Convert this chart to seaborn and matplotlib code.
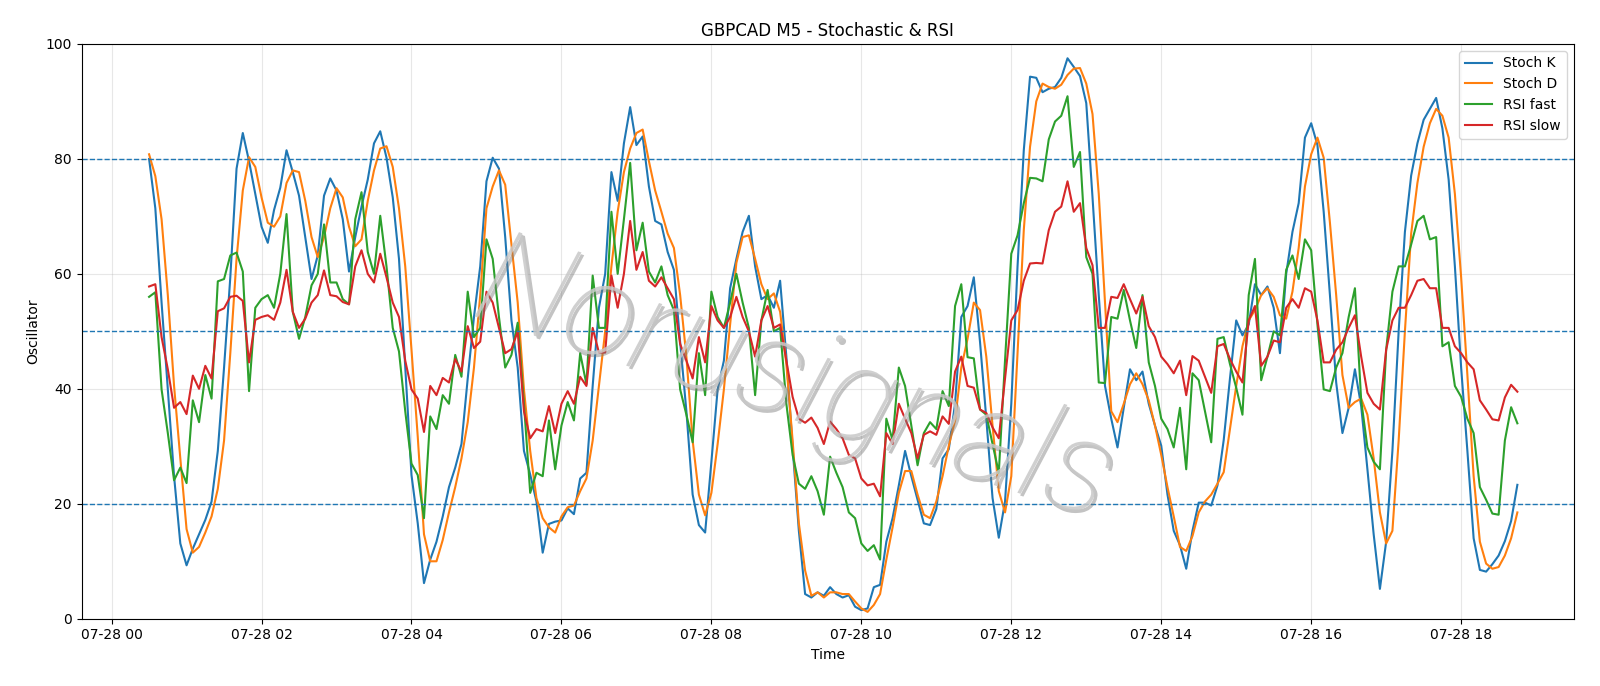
import numpy as np
import pandas as pd
import matplotlib
matplotlib.use("Agg")
import matplotlib.pyplot as plt
import matplotlib.dates as mdates
import matplotlib.patheffects as pe
import seaborn as sns

start_time = "2025-07-28 00:30"
freq = "5min"
x_left = "2025-07-27 23:36"
x_right = "2025-07-28 19:30"

stoch_k = [80, 71.4, 55, 39.9, 24.8, 13.1, 9.3, 12.2, 14.7, 17.2, 20.4, 29.2, 43.7, 59.4, 78.3, 84.5, 79.6, 73.9, 68.2, 65.4,
           71.1, 75, 81.5, 77.7, 73.6, 66.4, 59.1, 63.2, 73.6, 76.6, 74.5, 69.5, 60.4, 66.4, 71.7, 76.4, 82.7, 84.8, 80.2, 73.3,
           62.6, 43.7, 25, 16.6, 6.2, 10.3, 13.4, 17.8, 22.9, 26.3, 30.4, 41.8, 52.5, 61.3, 76.1, 80.2, 78.3, 66.4, 51.9, 43.7,
           29.2, 25.1, 20.4, 11.5, 16.5, 16.9, 17.1, 19.2, 18.2, 24.4, 25.4, 40.5, 54.1, 60, 77.7, 72.7, 82.7, 89, 82.4, 83.9,
           75.2, 69.2, 68.6, 63.8, 60.7, 48.1, 36.1, 21.6, 16.3, 15, 27.3, 39.9, 44.9, 57.5, 62.6, 67.3, 70.1, 61.3, 55.6, 56.3,
           54.1, 58.8, 45.6, 29.8, 15.3, 4.3, 3.7, 4.6, 4, 5.5, 4.3, 3.7, 4.1, 2.1, 1.5, 1.8, 5.5, 5.9, 13.4, 17.5,
           23.2, 29.2, 24.8, 20.7, 16.6, 16.3, 19.1, 27.9, 29.5, 37.4, 52.5, 54.4, 59.4, 48.1, 34.8, 21, 14.1, 20.4, 37.4, 61.3,
           81.5, 94.3, 94.1, 91.6, 92.2, 92.5, 94.1, 97.5, 96, 94.4, 89.7, 73.3, 56.3, 40.5, 34.8, 29.8, 36.7, 43.4, 41.5, 43,
           37.4, 33.6, 30.1, 21.6, 15.3, 12.8, 8.7, 15.3, 20.2, 20.2, 19.7, 23.2, 31.1, 41.8, 51.9, 49.3, 51.2, 58.2, 56.3, 57.8,
           54.1, 46.2, 60, 67.3, 72.3, 83.7, 86.2, 82.4, 70.8, 56.3, 41.1, 32.3, 36.7, 43.4, 37, 26, 14.7, 5.2, 13.4, 29.2,
           50, 67.3, 77.1, 82.7, 86.8, 88.7, 90.6, 85.3, 76.4, 61.3, 43.7, 29.2, 14, 8.5, 8.2, 9.5, 11, 13.5, 17, 23.3]

stoch_d = [80.8, 77, 69.5, 56.3, 40.5, 27.9, 15.6, 11.5, 12.5, 15, 17.8, 22.6, 31, 46.2, 62.6, 74.5, 80.3, 78.6, 73.3, 68.9,
           68.2, 70, 75.8, 78, 77.7, 72.7, 66.4, 62.9, 66.4, 71.4, 74.9, 73.3, 68.2, 64.8, 66, 72.7, 78, 81.8, 82.2, 78.6,
           71.4, 61.3, 46.8, 31.7, 14.7, 10, 10, 13.7, 18.5, 22.9, 27.9, 34.2, 43.7, 56.3, 71.4, 75.2, 78, 75.5, 65.1, 55,
           39.9, 29.2, 21, 17.5, 15.9, 15, 17.8, 19.4, 19.7, 22.2, 24.4, 31, 40.5, 50, 61.3, 70.8, 77.7, 81.8, 84.5, 85.1,
           79.6, 74.5, 70.8, 67, 64.5, 56.3, 45.6, 31, 21.6, 18, 21.9, 30.4, 39.9, 51.2, 61.9, 66.4, 66.7, 62.6, 58.2, 55.6,
           56.6, 53.4, 44.3, 31, 16.6, 8.4, 4, 4.6, 3.7, 4.6, 4.6, 4.3, 4.3, 3, 1.8, 1.2, 2.4, 4.3, 10.3, 15.9,
           21.9, 25.7, 25.7, 21.6, 18.1, 17.5, 20.4, 24.8, 30.1, 34.5, 43.7, 48.7, 55, 53.7, 45.6, 33.6, 22.2, 18.5, 24.8, 46.2,
           67.6, 82.1, 90, 93.1, 92.5, 92.2, 92.9, 94.6, 95.7, 95.8, 93.1, 87.8, 73.9, 55, 36.1, 34.2, 37.4, 40.8, 42.7, 40.8,
           38, 33.6, 28.5, 22.9, 17.8, 12.5, 11.8, 14.4, 18.5, 20.4, 21.6, 23.5, 25.5, 33, 40.5, 47.4, 51.9, 53.7, 56.3, 57.5,
           56, 52.8, 52.2, 56.9, 64.5, 75.2, 80.8, 83.7, 80.2, 68.9, 56.3, 42.4, 36.7, 37.7, 38.3, 35.5, 27.9, 18.5, 13.1, 15.3,
           31, 50, 67, 75.8, 82.1, 86.2, 88.7, 87.5, 83.7, 73.9, 59.4, 42.4, 24.8, 13.4, 9.6, 8.7, 9, 11, 14, 18.5]

rsi_fast = [56, 56.8, 39.9, 32.3, 24.1, 26.3, 23.6, 38, 34.2, 42.4, 38.3, 58.7, 59.1, 63.2, 63.7, 60.4, 39.6, 54.1, 55.6, 56.3,
            54.1, 60, 70.4, 53.4, 48.7, 52.5, 58, 60, 68.6, 58.5, 58.5, 55.6, 54.7, 69.5, 74.2, 63.8, 60, 70.1, 61.3, 50.6,
            46.5, 36.1, 27, 25, 17.5, 35.2, 33, 38.9, 37.4, 45.9, 42.1, 56.9, 49, 50.6, 66, 62.6, 52.5, 43.7, 45.9, 51.5,
            37.4, 21.9, 25.4, 24.8, 34.5, 26, 33.6, 37.7, 34.5, 46.2, 40.8, 59.7, 50.6, 50.6, 70.8, 60, 69.5, 79.3, 64.1, 68.9,
            60.4, 58.5, 61.3, 56.3, 53.7, 39.9, 35.5, 30.7, 46.2, 38.9, 56.9, 52.5, 50.6, 55, 60, 55, 50.6, 38.9, 51.9, 57.2,
            50, 50.6, 37.4, 28.5, 23.5, 22.6, 24.8, 22.2, 18.1, 28.2, 25.4, 22.9, 18.5, 17.5, 13.1, 11.8, 12.8, 10.3, 34.8, 31.1,
            43.7, 40.5, 33.6, 26.7, 32.3, 34.2, 33, 39.6, 37, 54.4, 58.2, 45.5, 45.3, 36.4, 35.5, 30.4, 25.4, 45, 63.5, 66.7,
            72.3, 76.7, 76.6, 76.1, 83.4, 86.5, 87.5, 90.9, 78.6, 81.2, 62.9, 60, 41.1, 41, 52.5, 52.2, 57.2, 51.9, 47.1, 56.3,
            44.6, 40.5, 34.8, 33, 29.8, 36.7, 26, 42.7, 41.5, 36.1, 30.7, 48.7, 49, 44.3, 40.2, 35.5, 56.3, 62.6, 41.5, 45.6,
            50, 49.3, 60.7, 63.2, 59.1, 66, 64.1, 51.2, 39.9, 39.6, 43.7, 46.2, 52.5, 57.5, 38, 29.8, 27.3, 26, 46.8, 56.9,
            61.3, 61.3, 65.1, 69.2, 70.1, 66, 66.4, 47.4, 48.1, 40.5, 38.6, 34.8, 32.3, 22.9, 20.7, 18.3, 18.1, 31, 36.8, 34]

rsi_slow = [57.8, 58.2, 49, 43.4, 36.7, 37.7, 35.6, 42.3, 40, 44, 41.8, 53.5, 54, 56, 56.2, 55.3, 44.6, 52, 52.5, 52.8,
            52, 55, 60.7, 53.4, 50.6, 52.2, 55, 56.3, 60.6, 56.3, 56.1, 55.1, 54.7, 61.3, 64.1, 60, 58.5, 63.5, 59.4, 55,
            52.5, 44.9, 39.9, 38.3, 32.5, 40.5, 38.9, 41.9, 41.1, 45.2, 43, 50.9, 47.1, 48.2, 56.9, 55, 50.6, 46.2, 46.9, 50,
            36.1, 31.4, 33, 32.6, 37, 32.3, 37.4, 39.6, 37.4, 42.1, 40.5, 50.6, 46.3, 46.3, 59.7, 54.1, 60, 69.2, 60.7, 63.8,
            58.8, 57.8, 59.4, 57.5, 55.6, 47.8, 44.9, 41.8, 49, 44.6, 54.4, 51.9, 50.6, 52.5, 56, 52.5, 50, 45.6, 51.9, 54.4,
            50.6, 51.2, 44.9, 38.6, 34.8, 34.1, 35, 33.2, 30.4, 34.3, 33, 31.4, 28.5, 27.9, 24.4, 23.2, 23.5, 21.3, 32.3, 30.4,
            37.4, 34.8, 32.3, 27.9, 32, 32.6, 32, 35.2, 33.9, 43, 45.6, 40.5, 40.2, 36.4, 35.8, 33.3, 31.4, 41.8, 51.9, 53.7,
            58.8, 61.8, 61.9, 61.8, 67.6, 70.8, 71.7, 76.1, 70.8, 72.3, 64.5, 61.5, 50.6, 50.6, 56, 55.8, 58.2, 55.6, 53.1, 56,
            50.9, 49, 45.6, 44.3, 42.7, 44.9, 38.9, 45.7, 44.9, 42.1, 39.3, 47.4, 47.8, 45.2, 43, 41.1, 51.9, 54.4, 44, 45.6,
            48.4, 48.1, 54.1, 55.6, 54.1, 57.5, 56.9, 51.9, 44.6, 44.6, 46.8, 48.1, 50.6, 52.8, 45.6, 39.3, 37.4, 36.4, 46.8, 51.9,
            54.1, 54.1, 56.3, 58.8, 59.1, 57.5, 57.5, 50.6, 50.6, 47.4, 46.2, 44.6, 43.4, 38, 36.4, 34.7, 34.5, 38.5, 40.7, 39.5]

series_names = ["Stoch K", "Stoch D", "RSI fast", "RSI slow"]
levels = [20, 50, 80]
watermark = "Norusignals"

n = len(stoch_k)
times = pd.date_range(start_time, periods=n, freq=freq)
df = pd.DataFrame({"Time": times, "Stoch K": stoch_k, "Stoch D": stoch_d,
                   "RSI fast": rsi_fast, "RSI slow": rsi_slow})

fig, ax = plt.subplots(figsize=(16, 6.86), dpi=100)
colors = ["#1f77b4", "#ff7f0e", "#2ca02c", "#d62728"]
for name, c in zip(series_names, colors):
    sns.lineplot(data=df, x="Time", y=name, ax=ax, color=c, label=name, linewidth=1.5)

for lv in levels:
    ax.axhline(lv, color="#1f77b4", linestyle="--", linewidth=1)

ax.set_ylim(0, 100)
ax.set_xlim(pd.Timestamp(x_left), pd.Timestamp(x_right))
ax.grid(True, alpha=0.3)
ax.set_title("GBPCAD M5 - Stochastic & RSI")
ax.set_xlabel("Time")
ax.set_ylabel("Oscillator")
ax.xaxis.set_major_locator(mdates.HourLocator(byhour=range(0, 24, 2)))
ax.xaxis.set_major_formatter(mdates.DateFormatter("%m-%d %H"))
ax.legend(loc="upper right")

ax.text(0.478, 0.41, watermark, transform=ax.transAxes, fontsize=95,
        family=["Roboto", "DejaVu Sans"], fontweight=100,
        color="#c8c8c8", alpha=0.85, rotation=-18, ha="center", va="center",
        style="italic", zorder=5,
        path_effects=[pe.withSimplePatchShadow(offset=(2, -2), shadow_rgbFace="#7a7a7a", alpha=0.45)])

fig.subplots_adjust(left=0.051, right=0.9835, top=0.936, bottom=0.098)
fig.savefig("out.png", dpi=100)
